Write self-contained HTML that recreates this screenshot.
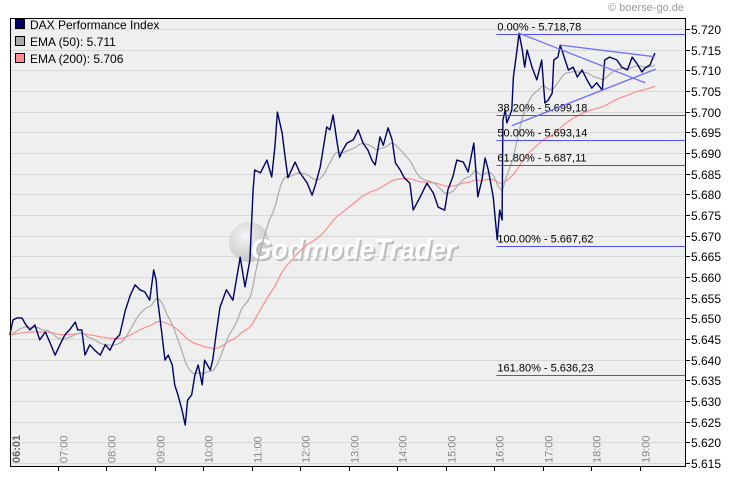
<!DOCTYPE html>
<html><head><meta charset="utf-8"><style>
body{margin:0;background:#fff;}
svg{display:block;font-family:"Liberation Sans",sans-serif;}
</style></head><body>
<svg id="chart" width="730" height="481" viewBox="0 0 730 481" xmlns="http://www.w3.org/2000/svg">
<defs>
<radialGradient id="wmc" cx="0.4" cy="0.35" r="0.7"><stop offset="0" stop-color="#f4f4f4"/><stop offset="1" stop-color="#c4c4c4"/></radialGradient>
</defs>
<rect x="10" y="18" width="675" height="448" fill="#efefef"/>
<g id="grid"></g>
<g>
<circle cx="249" cy="242" r="20" fill="url(#wmc)"/>
<text x="251" y="259" font-size="29" font-weight="bold" font-style="italic" fill="#bdbdbd" transform="translate(2,2)" textLength="205" lengthAdjust="spacingAndGlyphs">GodmodeTrader</text>
<text x="251" y="259" font-size="29" font-weight="bold" font-style="italic" fill="#ffffff" textLength="205" lengthAdjust="spacingAndGlyphs">GodmodeTrader</text>
</g>
<g id="series"></g>
<g id="fib"></g>
<g id="trend"></g>
<line x1="10" y1="18.5" x2="685" y2="18.5" stroke="#000"/>
<line x1="10.5" y1="18" x2="10.5" y2="466" stroke="#000"/>
<line x1="10" y1="466.5" x2="685" y2="466.5" stroke="#000"/>
<line x1="685.5" y1="18" x2="685.5" y2="467" stroke="#000"/>
<g id="yaxis"></g>
<g id="xaxis"></g>
<g font-size="12">
<rect x="15.5" y="19.5" width="9" height="9" fill="#000066" stroke="#000"/>
<text x="30" y="29" fill="#000">DAX Performance Index</text>
<rect x="15.5" y="36.5" width="9" height="9" fill="#aaaaaa" stroke="#000"/>
<text x="30" y="46" fill="#000">EMA (50): 5.711</text>
<rect x="15.5" y="53.5" width="9" height="9" fill="#ff8c8c" stroke="#000"/>
<text x="30" y="63" fill="#000">EMA (200): 5.706</text>
</g>
<text x="684" y="11" font-size="11" fill="#999" text-anchor="end">© boerse-go.de</text>
</svg>
<script>
// minutes since 06:00
const times=[1,5,10,16,21,26,32,38,45,51,57,63,69,75,82,85,90,94,100,106,113,119,125,131,137,144,150,156,162,168,174,179,182,184,187,193,197,202,205,209,214,218,221,226,230,234,239,242,249,252,257,261,269,277,286,292,298,302,304,311,319,325,329,332,338,341,345,354,360,369,375,379,385,393,397,401,406,409,413,418,426,432,438,444,449,453,459,463,469,474,478,484,489,496,500,508,517,525,531,539,543,549,554,562,568,575,580,585,589,593,599,604,607,610,611,614,616,622,624,628,631,635,638,641,647,653,659,663,667,672,674,679,682,688,692,698,703,709,715,721,727,734,737,743,752,758,765,771,777,783,787,793,797,799];
const prices=[5646.0,5649.6,5650.1,5650.1,5648.4,5647.2,5648.4,5644.8,5646.7,5644.0,5641.1,5643.6,5646.0,5647.2,5649.1,5647.2,5647.2,5641.1,5643.6,5642.3,5641.1,5643.6,5642.3,5644.8,5646.0,5652.0,5655.6,5658.1,5656.9,5656.4,5654.4,5661.7,5659.3,5654.4,5649.6,5639.9,5641.1,5638.7,5633.9,5631.5,5627.8,5624.2,5630.2,5631.5,5636.3,5638.7,5633.9,5639.9,5637.5,5639.9,5647.2,5652.7,5656.9,5654.4,5664.8,5657.6,5664.1,5681.1,5685.9,5685.2,5688.3,5684.2,5691.5,5699.9,5694.8,5690.0,5684.0,5687.8,5685.2,5682.7,5679.8,5682.3,5686.6,5696.3,5695.6,5699.2,5692.4,5689.0,5690.7,5692.4,5693.2,5695.6,5692.4,5690.7,5688.3,5687.1,5693.9,5691.9,5696.1,5693.2,5687.6,5685.9,5684.0,5682.7,5676.2,5679.1,5682.7,5680.3,5676.9,5676.2,5681.1,5684.2,5688.3,5687.8,5685.4,5692.4,5679.4,5683.5,5688.8,5685.9,5679.4,5669.0,5676.2,5673.8,5698.0,5700.4,5697.3,5700.4,5708.4,5714.2,5719.0,5714.9,5710.8,5714.9,5710.8,5707.7,5712.5,5702.1,5702.8,5704.5,5712.5,5713.2,5716.1,5712.5,5710.1,5710.8,5708.4,5710.1,5707.7,5705.7,5707.0,5705.2,5712.5,5713.2,5712.5,5710.8,5710.1,5713.2,5711.6,5709.6,5710.6,5711.3,5713.2,5714.2];
const fibLevels=[5718.78,5699.18,5693.14,5687.11,5667.62,5636.23];
const fibLabels=["0.00% - 5.718,78","38.20% - 5.699,18","50.00% - 5.693,14","61.80% - 5.687,11","100.00% - 5.667,62","161.80% - 5.636,23"];
const yTicks=[5615,5620,5625,5630,5635,5640,5645,5650,5655,5660,5665,5670,5675,5680,5685,5690,5695,5700,5705,5710,5715,5720];
const xTicks=["07:00","08:00","09:00","10:00","11:00","12:00","13:00","14:00","15:00","16:00","17:00","18:00","19:00"];
// trend lines [t1,p1,t2,p2]
const trendA=[631,5719.0,787,5707.0];
const trendB=[682,5716.1,799,5713.3];
const trendC=[622,5696.6,800,5710.3];
const fibStartTime=603;

const NS="http://www.w3.org/2000/svg";
const xs=m=>9+m*48.5/60;
const ys=v=>463-(v-5615)*4.133;
function mk(tag,attrs,parent){const e=document.createElementNS(NS,tag);for(const k in attrs)e.setAttribute(k,attrs[k]);parent.appendChild(e);return e;}
const grid=document.getElementById('grid'),yax=document.getElementById('yaxis'),xax=document.getElementById('xaxis');
yTicks.forEach(v=>{
  const y=Math.round(ys(v))+0.5;
  const g=mk('line',{x1:11,x2:685,y1:y,y2:y,stroke:'#d8d8d8'},grid);
  
  
  const t=mk('line',{x1:685,x2:690,y1:y,y2:y,stroke:'#000'},yax);
  
  
  const l=mk('text',{x:691,y:y+4.5,'font-size':12,fill:'#000'},yax);
  
  
  l.textContent=(v/1000).toFixed(3);
});
xTicks.forEach(s=>{
  const h=parseInt(s);const x=Math.round(xs((h-6)*60))+0.5;
  const t=mk('line',{x1:x,x2:x,y1:466,y2:471,stroke:'#000'},xax);
  
  
  const l=mk('text',{x:0,y:0,'font-size':11,fill:'#888',transform:`translate(${x+9},463) rotate(-90)`},xax);
  
  
  l.textContent=s;
});
{const l=mk('text',{x:0,y:0,'font-size':11,'font-weight':'bold',fill:'#666',transform:'translate(20,463) rotate(-90)'},xax);


l.textContent='06:01';}
// EMA computed on per-minute resampling
function ema(n){const a=2/(n+1);const out=[];let e=prices[0];let j=0;
  for(let m=times[0];m<=times[times.length-1];m++){while(j<times.length-2&&times[j+1]<m)j++;
    const f=(m-times[j])/(times[j+1]-times[j]);const p=prices[j]+(prices[j+1]-prices[j])*Math.max(0,Math.min(1,f));
    e=e+a*(p-e);out.push([m,e]);}
  return out;}
const ser=document.getElementById('series');
function path(pts,color,w,name){const d=pts.map((p,i)=>(i?'L':'M')+xs(p[0]).toFixed(1)+','+ys(p[1]).toFixed(1)).join('');
  const e=mk('path',{d:d,fill:'none',stroke:color,'stroke-width':w,'stroke-linejoin':'round'},ser);
  
  }
path(ema(200),'#ff8c8c',1.2,'ema-200-line');
path(ema(50),'#aaaaaa',1.2,'ema-50-line');
path(times.map((t,i)=>[t,prices[i]]),'#000066',1.4,'dax-line');
const fib=document.getElementById('fib');
fibLevels.forEach((v,i)=>{const y=Math.round(ys(v))+0.5;
  const l=mk('line',{x1:xs(fibStartTime),x2:685,y1:y,y2:y,stroke:'#4d4dff','stroke-width':1},fib);
  
  
  const t=mk('text',{x:xs(fibStartTime)+1,y:y-4,'font-size':11,fill:'#000'},fib);
  
  
  t.textContent=fibLabels[i];});
const tr=document.getElementById('trend');
[trendA,trendB,trendC].forEach(a=>{const l=mk('line',{x1:xs(a[0]),y1:ys(a[1]),x2:xs(a[2]),y2:ys(a[3]),stroke:'#6f6fff','stroke-width':1.3},tr);
  
  });
</script>
</body></html>
